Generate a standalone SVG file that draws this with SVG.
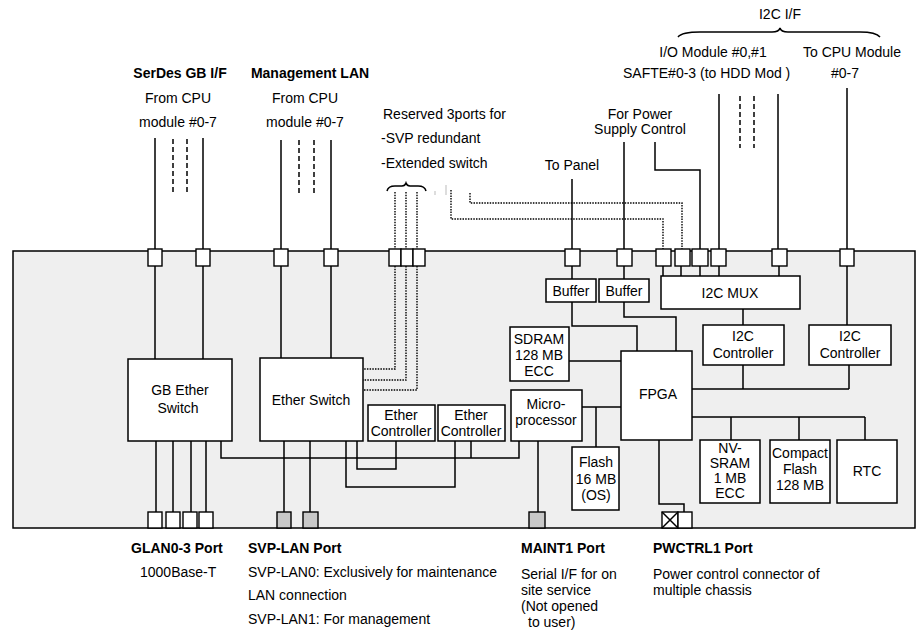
<svg xmlns="http://www.w3.org/2000/svg" width="917" height="630" viewBox="0 0 917 630">
<style>
text{font-family:"Liberation Sans",Arial,sans-serif;font-size:14px;fill:#000}
.b{font-weight:bold}
.m{text-anchor:middle}
.box{fill:#fff;stroke:#000;stroke-width:1.5}
.port{fill:#fff;stroke:#000;stroke-width:1.4}
.gp{fill:#c8c8c8;stroke:#000;stroke-width:1.4}
.ln{fill:none;stroke:#000;stroke-width:1.5}
.ds{fill:none;stroke:#000;stroke-width:1.5;stroke-dasharray:5,3}
.dt{fill:none;stroke:#000;stroke-width:1.4;stroke-dasharray:1.5,1.2}
</style>
<rect id="board" x="13" y="251" width="902" height="277" fill="#efefef" stroke="#000" stroke-width="1.5"/>

<g id="connectors">
<!-- external -->
<path class="ln" d="M155,138V249M203,138V249M281,140V249M331,140V249M572,179V249M624,142V249M655,142V170H700V249M719,94V249M778,94V249M847,88V249"/>
<path class="ds" d="M173,139V195M187,139V195M299,140V193M314,140V193M740,96V148M754,96V148"/>
<path class="dt" d="M395,192V249M406,192V249M417,192V249M451,190V219H663V249M470,193V203H682V249"/>
<path d="M435,191V195M446,185V195" stroke="#bbb" stroke-width="1" fill="none"/>
<!-- internal from top ports -->
<path class="ln" d="M155,266V359M203,266V359M281,266V358M331,266V358M572,266V279M624,266V279M663,266V276M681,266V276M700,266V276M719,266V276M779,266V276M847,266V325"/>
<path class="dt" d="M395,266V369H363M406,266V380H363M417,266V390H363"/>
<!-- bottom side -->
<path class="ln" d="M156,441V512M173,441V512M191,441V512M206,441V512M221,441V458H519V441M471,441V458M357,441V469H396V441M346,441V487H455V441M284,441V512M310,441V512M538,441V512"/>
<path class="ln" d="M582,407H621M596,407V447M569,361H621M572,302V326H637V351M624,302V317H676V351M743,309V325M692,389H849M743,365V389M849,365V389M692,417H865M731,417V440M799,417V440M865,417V440M659,440V504H684V512"/>
<!-- braces -->
<path class="ln" stroke-width="1.3" d="M678,37Q682,32 700,32L772,32Q779,32 780,28Q781,32 788,32L860,32Q876,32 880,37"/>
<path class="ln" stroke-width="1.3" d="M387,191Q388,186 395,186L402,186Q405,186 406,183Q407,186 410,186L418,186Q425,186 426,191"/>
</g>

<g id="ports-top">
<rect class="port" x="148" y="249" width="14" height="17"/>
<rect class="port" x="196" y="249" width="14" height="17"/>
<rect class="port" x="274" y="249" width="14" height="17"/>
<rect class="port" x="324" y="249" width="14" height="17"/>
<rect class="port" x="389" y="249" width="12" height="17"/>
<rect class="port" x="401" y="249" width="12" height="17"/>
<rect class="port" x="413" y="249" width="12" height="17"/>
<rect class="port" x="565" y="249" width="15" height="17"/>
<rect class="port" x="617" y="249" width="15" height="17"/>
<rect class="port" x="656" y="249" width="15" height="17"/>
<rect class="port" x="675" y="249" width="15" height="17"/>
<rect class="port" x="692" y="249" width="16" height="17"/>
<rect class="port" x="711" y="249" width="15" height="17"/>
<rect class="port" x="772" y="249" width="15" height="17"/>
<rect class="port" x="840" y="249" width="14" height="17"/>
</g>
<g id="ports-bottom">
<rect class="port" x="148" y="512" width="14" height="16"/>
<rect class="port" x="166" y="512" width="14" height="16"/>
<rect class="port" x="183" y="512" width="14" height="16"/>
<rect class="port" x="199" y="512" width="14" height="16"/>
<rect class="gp" x="277" y="512" width="14" height="16"/>
<rect class="gp" x="303" y="512" width="15" height="16"/>
<rect class="gp" x="529" y="512" width="16" height="16"/>
<rect class="port" x="662" y="512" width="16" height="16"/>
<path class="ln" stroke-width="1.3" d="M662,512L678,528M678,512L662,528"/>
<rect class="port" x="678" y="512" width="14" height="16"/>
</g>

<g id="gb-ether-switch"><rect class="box" x="128" y="359" width="104" height="82"/><text class="m" x="180" y="395">GB Ether</text><text class="m" x="178" y="413">Switch</text></g>
<g id="ether-switch"><rect class="box" x="260" y="358" width="103" height="83"/><text class="m" x="311" y="405">Ether Switch</text></g>
<g id="ether-ctrl-1"><rect class="box" x="368" y="405" width="67" height="36"/><text class="m" x="401" y="420">Ether</text><text class="m" x="401" y="436">Controller</text></g>
<g id="ether-ctrl-2"><rect class="box" x="438" y="405" width="67" height="36"/><text class="m" x="471" y="420">Ether</text><text class="m" x="471" y="436">Controller</text></g>
<g id="microprocessor"><rect class="box" x="511" y="390" width="71" height="51"/><text class="m" x="546" y="409">Micro-</text><text class="m" x="546" y="425">processor</text></g>
<g id="sdram"><rect class="box" x="510" y="327" width="59" height="54"/><text class="m" x="539" y="344">SDRAM</text><text class="m" x="539" y="360">128 MB</text><text class="m" x="539" y="376">ECC</text></g>
<g id="buffer-1"><rect class="box" x="546" y="279" width="50" height="23"/><text class="m" x="571" y="296">Buffer</text></g>
<g id="buffer-2"><rect class="box" x="599" y="279" width="50" height="23"/><text class="m" x="624" y="296">Buffer</text></g>
<g id="i2c-mux"><rect class="box" x="661" y="276" width="139" height="33"/><text class="m" x="730" y="298">I2C MUX</text></g>
<g id="i2c-ctrl-1"><rect class="box" x="703" y="325" width="81" height="40"/><text class="m" x="743" y="341">I2C</text><text class="m" x="743" y="358">Controller</text></g>
<g id="i2c-ctrl-2"><rect class="box" x="809" y="325" width="82" height="40"/><text class="m" x="850" y="341">I2C</text><text class="m" x="850" y="358">Controller</text></g>
<g id="fpga"><rect class="box" x="621" y="351" width="71" height="89"/><text class="m" x="658" y="399">FPGA</text></g>
<g id="flash"><rect class="box" x="572" y="447" width="47" height="63"/><text class="m" x="596" y="467">Flash</text><text class="m" x="596" y="484">16 MB</text><text class="m" x="596" y="500">(OS)</text></g>
<g id="nv-sram"><rect class="box" x="700" y="440" width="60" height="63"/><text class="m" x="730" y="453">NV-</text><text class="m" x="730" y="468">SRAM</text><text class="m" x="730" y="483">1 MB</text><text class="m" x="730" y="498">ECC</text></g>
<g id="compact-flash"><rect class="box" x="770" y="440" width="60" height="63"/><text class="m" x="800" y="458">Compact</text><text class="m" x="800" y="474">Flash</text><text class="m" x="800" y="490">128 MB</text></g>
<g id="rtc"><rect class="box" x="837" y="440" width="60" height="63"/><text class="m" x="867" y="476">RTC</text></g>

<g id="labels-top">
<text class="b m" x="180" y="78">SerDes GB I/F</text>
<text class="m" x="178" y="103">From CPU</text>
<text class="m" x="178" y="127">module #0-7</text>
<text class="b m" x="310" y="78">Management LAN</text>
<text class="m" x="305" y="103">From CPU</text>
<text class="m" x="305" y="127">module #0-7</text>
<text x="383" y="119">Reserved 3ports for</text>
<text x="381" y="143">-SVP redundant</text>
<text x="381" y="168">-Extended switch</text>
<text class="m" x="572" y="170">To Panel</text>
<text class="m" x="640" y="119">For Power</text>
<text class="m" x="640" y="134">Supply Control</text>
<text class="m" x="780" y="19">I2C I/F</text>
<text class="m" x="713" y="57">I/O Module #0,#1</text>
<text x="623" y="78">SAFTE#0-3 (to HDD Mod )</text>
<text class="m" x="852" y="57">To CPU Module</text>
<text class="m" x="845" y="78">#0-7</text>
</g>
<g id="labels-bottom">
<text class="b" x="131" y="553">GLAN0-3 Port</text>
<text x="140" y="577">1000Base-T</text>
<text class="b" x="248" y="553">SVP-LAN Port</text>
<text x="248" y="577">SVP-LAN0: Exclusively for maintenance</text>
<text x="248" y="600">LAN connection</text>
<text x="248" y="624">SVP-LAN1: For management</text>
<text class="b" x="521" y="553">MAINT1 Port</text>
<text x="521" y="579">Serial I/F for on</text>
<text x="521" y="595">site service</text>
<text x="521" y="611">(Not opened</text>
<text x="528" y="627">to user)</text>
<text class="b" x="653" y="553">PWCTRL1 Port</text>
<text x="653" y="579">Power control connector of</text>
<text x="653" y="595">multiple chassis</text>
</g>
</svg>
